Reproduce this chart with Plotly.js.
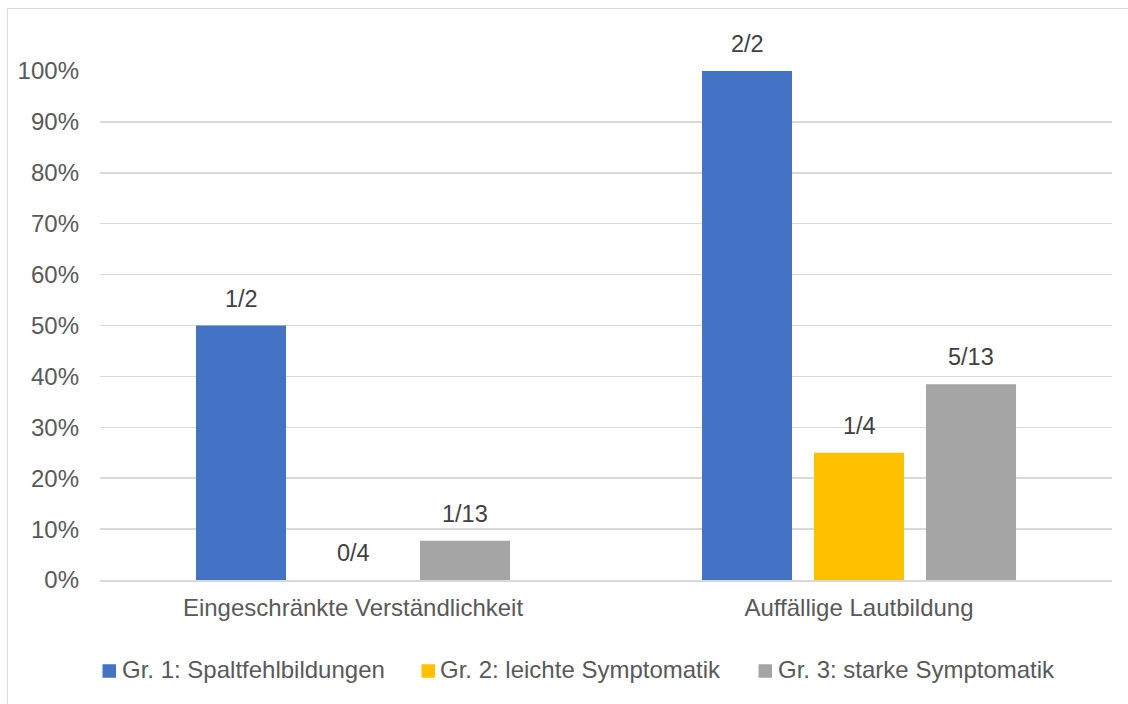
<!DOCTYPE html>
<html><head><meta charset="utf-8">
<script src="https://cdn.plot.ly/plotly-3.0.1.min.js"></script>
<style>
html,body{margin:0;padding:0;background:#fff;}
#wrap{position:relative;width:1128px;height:704px;overflow:hidden;}
#frame{position:absolute;left:7px;top:8px;width:1200px;height:800px;border-left:1.5px solid #d9d9d9;border-top:1.5px solid #d9d9d9;pointer-events:none;}
#chart{position:absolute;left:0;top:0;width:1128px;height:704px;}
</style></head>
<body><div id="wrap"><div id="chart"></div><div id="frame"></div></div>
<script>
const categories = ["Eingeschränkte Verständlichkeit", "Auffällige Lautbildung"];
const seriesNames = ["Gr. 1: Spaltfehlbildungen", "Gr. 2: leichte Symptomatik", "Gr. 3: starke Symptomatik"];
const gr1Values = [1/2, 2/2];
const gr2Values = [0/4, 1/4];
const gr3Values = [1/13, 5/13];
const gr1Labels = ["1/2", "2/2"];
const gr2Labels = ["0/4", "1/4"];
const gr3Labels = ["1/13", "5/13"];
const colors = ["#4472C4", "#FFC000", "#A5A5A5"];
const tickVals = [0,0.1,0.2,0.3,0.4,0.5,0.6,0.7,0.8,0.9,1.0];
const tickText = ["0%","10%","20%","30%","40%","50%","60%","70%","80%","90%","100%"];

const font = "Liberation Sans, Arial, sans-serif";
const FS = 24;
const W = 1128, H = 704, M = {l:100, r:16, t:71, b:124};
const bargap = 0.336, bargroupgap = 0.196;

const allValues = [gr1Values, gr2Values, gr3Values];
const allLabels = [gr1Labels, gr2Labels, gr3Labels];

const data = allValues.map((vals, i) => ({
  type:"bar", x:categories, y:vals, name:seriesNames[i],
  marker:{color:colors[i]}, hoverinfo:"none", showlegend:false
}));

const plotW = W - M.l - M.r, plotH = H - M.t - M.b;
const px2x = p => (p - M.l) / plotW;
const px2y = p => (H - M.b - p) / plotH;

// data labels, offset to each bar's slot within the group
const slot = plotW / categories.length * (1 - bargap) / allValues.length;
const annotations = [];
allValues.forEach((vals, i) => {
  vals.forEach((v, j) => {
    annotations.push({x:categories[j], y:v, xref:"x", yref:"y", text:allLabels[i][j],
      showarrow:false, yanchor:"bottom", xanchor:"center",
      xshift:(i - (allValues.length-1)/2) * slot, yshift:12,
      font:{family:font, size:23.5, color:"#404040"}});
  });
});

// custom legend (square + label)
const legendSquareX = [102.5, 421.5, 758.5];
const legendTextX = [120, 437.5, 776];
const legendSize = 13.5, legendCY = 671, legendTextCY = 669;
const shapes = [];
seriesNames.forEach((name, i) => {
  shapes.push({type:"rect", xref:"paper", yref:"paper",
    x0:px2x(legendSquareX[i]), x1:px2x(legendSquareX[i]+legendSize),
    y0:px2y(legendCY+legendSize/2), y1:px2y(legendCY-legendSize/2),
    fillcolor:colors[i], line:{width:0}});
  annotations.push({xref:"paper", yref:"paper", x:px2x(legendTextX[i]), y:px2y(legendTextCY),
    xanchor:"left", yanchor:"middle", showarrow:false, text:name,
    font:{family:font, size:FS, color:"#595959"}});
});

const layout = {
  width:W, height:H, margin:M,
  paper_bgcolor:"rgba(0,0,0,0)", plot_bgcolor:"#fff",
  barmode:"group", bargap:bargap, bargroupgap:bargroupgap,
  font:{family:font, size:FS, color:"#595959"},
  xaxis:{showgrid:false, showline:true, linecolor:"#d9d9d9", linewidth:1.5, ticks:"",
    tickfont:{family:font,size:FS,color:"#595959"}, ticklabelstandoff:6},
  yaxis:{range:[0,1.0], tickvals:tickVals, ticktext:tickText, showgrid:true,
    gridcolor:"#d9d9d9", gridwidth:1.5, zeroline:false, showline:false, ticks:"",
    tickfont:{family:font,size:FS,color:"#595959"}, ticklabelstandoff:20},
  annotations:annotations, shapes:shapes,
  showlegend:false
};
Plotly.newPlot("chart", data, layout, {displayModeBar:false, staticPlot:true});
</script></body></html>
